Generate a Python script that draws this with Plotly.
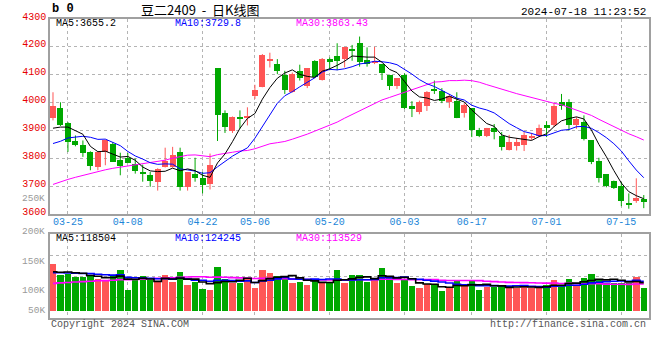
import numpy as np
import plotly.graph_objects as go

# ---------------- data ----------------
dates = ["03-21","03-22","03-25","03-26","03-27","03-28","03-29",
         "04-01","04-02","04-03","04-08","04-09","04-10","04-11","04-12","04-15","04-16","04-17","04-18","04-19",
         "04-22","04-23","04-24","04-25","04-26","04-29","04-30",
         "05-06","05-07","05-08","05-09","05-10","05-13","05-14","05-15","05-16","05-17","05-20","05-21","05-22",
         "05-23","05-24","05-27","05-28","05-29","05-30","05-31",
         "06-03","06-04","06-05","06-06","06-07","06-11","06-12","06-13","06-14","06-17","06-18","06-19","06-20",
         "06-21","06-24","06-25","06-26","06-27","06-28",
         "07-01","07-02","07-03","07-04","07-05","07-08","07-09","07-10","07-11","07-12","07-15","07-16","07-17","07-18"]

open_ = [3945,3979,3926,3861,3849,3823,3767,3823,3853,3795,3801,3781,3748,3739,3716,3767,3769,3823,3698,3742,
         3730,3707,4123,3964,3897,3950,3948,4025,4055,4148,4140,4100,4039,4114,4058,4148,4081,4158,4168,4156,
         4194,4213,4154,4144,4138,4100,4061,4100,3986,3967,3988,4049,4043,4001,4007,3963,3980,3900,3880,3907,
         3879,3830,3843,3846,3874,3879,3918,3918,4001,4001,3921,3930,3864,3790,3743,3720,3700,3641,3645,3653]
high = [4037,4001,3930,3882,3864,3825,3826,3867,3858,3820,3819,3799,3777,3751,3764,3838,3841,3838,3751,3802,
        3751,3817,4123,3972,3950,3972,3983,4064,4174,4179,4156,4114,4108,4136,4123,4152,4160,4162,4213,4198,
        4207,4237,4198,4200,4138,4100,4087,4105,4005,4007,4041,4079,4052,4031,4037,3998,3980,3909,3909,3923,
        3894,3884,3872,3894,3891,3921,3933,3999,4031,4012,3948,3954,3864,3802,3743,3720,3715,3674,3728,3668]
low = [3936,3916,3823,3843,3805,3757,3757,3775,3787,3739,3783,3745,3716,3698,3684,3767,3767,3684,3684,3716,
       3674,3688,3862,3891,3891,3906,3918,4013,4055,4126,4102,4031,4036,4079,4052,4091,4079,4116,4116,4126,
       4150,4129,4129,4138,4081,4045,4049,3977,3948,3958,3970,4031,3998,3981,3944,3946,3876,3876,3876,3868,
       3828,3828,3828,3826,3866,3876,3876,3912,3974,3900,3906,3864,3779,3713,3696,3690,3628,3619,3640,3621]
close = [3989,3918,3858,3847,3819,3772,3823,3867,3787,3773,3783,3755,3745,3718,3760,3789,3811,3698,3751,3730,
         3704,3775,3957,3912,3950,3944,3952,4045,4170,4158,4112,4045,4102,4088,4123,4093,4158,4144,4150,4198,
         4186,4144,4138,4150,4105,4058,4087,3980,3976,4001,4038,4043,4005,4025,3944,3993,3900,3880,3907,3893,
         3840,3858,3858,3885,3879,3909,3909,3986,3989,3920,3940,3870,3788,3731,3699,3692,3646,3633,3659,3644]
volume_k = [164,136,139,132,132,136,127,122,134,148,100,126,134,124,120,136,119,144,112,120,
            101.5,100,156,126,116,118,126,105.5,148,140,134,134,118,120,112,126,116,116,148,118,
            136,136,120,128,153,128,117,127,110,104,114,114,98,104,124,112,124,100,108,108,
            110,105.5,105.5,110,105.5,105.5,112,124,110,126.5,110,129,138.6,126.5,117.6,117.6,118,118,131,104]

# closes / volumes of the 29 sessions before the first visible one (needed for the moving averages)
prior_close = [3630,3605,3620,3598,3615,3619,3642,3625,3650,3630,3638,3620,3645,3630,3637,
               3590,3560,3570,3700,3830,3838,3738,3817,3789,3808,3898,3858,3907,3888]
prior_volume_k = [100,108,95,112,104,98,110,102,106,99,113,101,104,97,108,103,100,96,100,104,
                  138,145,136,142,139,141,136,142,137]

tick_labels = ["03-25","04-08","04-22","05-06","05-20","06-03","06-17","07-01","07-15"]
price_ticks = [3600,3700,3800,3900,4000,4100,4200,4300]
price_ma_labels = ["MA5:3655.2","MA10:3729.8","MA30:3863.43"]
vol_ma_labels = ["MA5:118504","MA10:124245","MA30:113529"]
vol_axis_labels = ["250K","200K","150K","100K","50K"]
title_text = "豆二2409&nbsp;&nbsp;-&nbsp;&nbsp;日K线图"
stamp_text = "2024-07-18 11:23:52"

# ---------------- helpers ----------------
W, H = 660, 360
L, R, T, B = 50, 651, 19, 318          # plot area in pixels
def px(x):
    return (x - L) / (R - L)
def py(y):
    return (B - y) / (B - T)

def ma(prior, vals, n):
    s = np.array(list(prior) + list(vals), dtype=float)
    out = np.convolve(s, np.ones(n) / n, mode="valid")
    return out[-len(vals):]

RED = "#ff5656"
GREEN = "#00a800"
MONO = "Liberation Mono, DejaVu Sans Mono, monospace"

n = len(close)
idx = np.arange(n)
o = np.array(open_, float); c = np.array(close, float)
hi = np.array(high, float); lo = np.array(low, float)
vol = np.array(volume_k) * 1000
up = c >= o

fig = go.Figure()

# wicks
for mask, col in ((up, RED), (~up, GREEN)):
    xs, ys = [], []
    for i in idx[mask]:
        xs += [i, i, None]
        ys += [lo[i], hi[i], None]
    fig.add_trace(go.Scatter(x=xs, y=ys, mode="lines", line=dict(color=col, width=1),
                             hoverinfo="skip", showlegend=False, xaxis="x", yaxis="y"))
# bodies
for mask, col in ((up, RED), (~up, GREEN)):
    base = np.minimum(o, c)[mask]
    hgt = np.maximum(np.abs(c - o)[mask], 3.6)
    fig.add_trace(go.Bar(x=idx[mask], y=hgt, base=base, width=0.8, marker=dict(color=col, line=dict(width=0)),
                         showlegend=False, xaxis="x", yaxis="y"))

# price moving averages
for nper, col in ((30, "#ff00ff"), (10, "#0000ff"), (5, "#000000")):
    fig.add_trace(go.Scatter(x=idx, y=ma(prior_close, close, nper), mode="lines",
                             line=dict(color=col, width=1), showlegend=False, xaxis="x", yaxis="y"))

# volume bars
VBASE = 50000
fig.add_trace(go.Bar(x=idx, y=vol - VBASE, base=VBASE, width=0.86,
                     marker=dict(color=[RED if u else GREEN for u in up], line=dict(width=0)),
                     showlegend=False, xaxis="x2", yaxis="y2"))
for nper, col in ((30, "#ff00ff"), (10, "#0000ff"), (5, "#000000")):
    fig.add_trace(go.Scatter(x=idx, y=ma(np.array(prior_volume_k) * 1000, vol, nper), mode="lines",
                             line=dict(color=col, width=1.6, shape="hvh"), showlegend=False,
                             xaxis="x2", yaxis="y2"))

tick_idx = [dates.index(t) for t in tick_labels]
xrange = [-0.4, 79.7]
vlo, vhi = 32370, 235270
vgrid = [vlo + k * (vhi - vlo) / 4 for k in (1, 2, 3)]

GRID = dict(showgrid=True, gridcolor="#b4b4b4", griddash="dot", gridwidth=1)
FRAME = dict(showline=True, mirror=True, linecolor="#a0a0a0", linewidth=1.5, zeroline=False)

fig.update_layout(
    width=W, height=H, margin=dict(l=L, r=W - R, t=T, b=H - B),
    paper_bgcolor="white", plot_bgcolor="white", barmode="overlay", bargap=0,
    font=dict(family=MONO, size=10, color="#000"),
    xaxis=dict(domain=[0, 1], anchor="y", range=xrange, tickvals=tick_idx, ticktext=tick_labels,
               tickfont=dict(color="#1c86d8", size=10, family=MONO), ticks="", ticklabelstandoff=-3,
               **GRID, **FRAME),
    yaxis=dict(domain=[py(214), 1], anchor="x", range=[3600, 4300], tickvals=price_ticks,
               tickfont=dict(color="#e60000", size=10, family=MONO), ticks="", ticklabelshift=-3,
               **GRID, **FRAME),
    xaxis2=dict(domain=[0, 1], anchor="y2", matches="x", range=xrange, tickvals=tick_idx,
                showticklabels=False, ticks="", **GRID, **FRAME),
    yaxis2=dict(domain=[0, py(234)], anchor="x2", range=[vlo, vhi], tickvals=vgrid,
                showticklabels=False, ticks="", **GRID, **FRAME),
)

ann = []
def text(s, x, y, color="#000", size=10, anchor="left", family=MONO):
    ann.append(dict(text=s, x=px(x), y=py(y), xref="paper", yref="paper", showarrow=False,
                    xanchor=anchor, yanchor="middle", font=dict(color=color, size=size, family=family)))

text("<b>b 0</b>", 50, 9, size=12)
text(title_text, 200, 9, size=13, anchor="center", family="Noto Sans CJK SC")
text(stamp_text, 650, 12, size=11, anchor="right")
for s, x, col in zip(price_ma_labels, (54, 173, 295), ("#000", "#0000ff", "#ff00ff")):
    text(s, x, 24, color=col, size=10)
for s, x, col in zip(vol_ma_labels, (54, 173, 295), ("#000", "#0000ff", "#ff00ff")):
    text(s, x, 238, color=col, size=10)
for s, y in zip(vol_axis_labels, (198, 231, 261, 290, 310)):
    text(s, 47, y, color="#9a9a9a", size=9.5, anchor="right")
text("Copyright 2024 SINA.COM", 49, 324, color="#555", size=10)
text("http://finance.sina.com.cn", 650, 324, color="#555", size=10, anchor="right")
fig.update_layout(annotations=ann)

fig.write_html("out.html", config={"displayModeBar": False},
               post_script="document.body.style.margin='0';")
